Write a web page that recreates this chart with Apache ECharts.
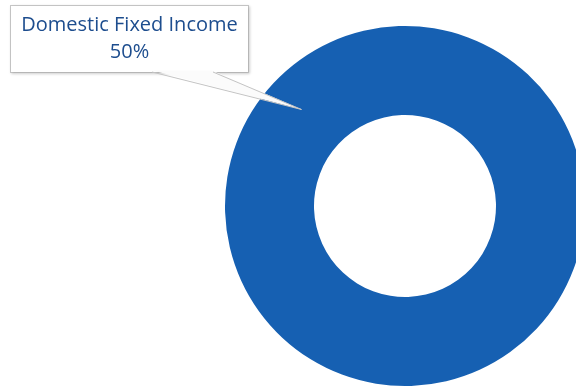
<!DOCTYPE html>
<html>
<head>
<meta charset="utf-8">
<script src="https://cdn.jsdelivr.net/npm/echarts@6/dist/echarts.min.js"></script>
<style>html,body{margin:0;padding:0;background:#fff}#c{width:576px;height:388px}</style>
</head>
<body>
<div id="c"></div>
<script>
var categories = ['Domestic Fixed Income'];
var values = [50];

var CX = 405, CY = 206, R_IN = 91, R_OUT = 180;
var MID_ANGLE = 137; // degrees, label direction (counter-clockwise from +x)
var BOX = {x: 11, y: 6, w: 237, h: 66};

var chart = echarts.init(document.getElementById('c'), null, {renderer: 'canvas'});

var rMid = (R_IN + R_OUT) / 2 + 6;
var rad = MID_ANGLE * Math.PI / 180;
var tip = [CX + rMid * Math.cos(rad), CY - rMid * Math.sin(rad)];
var baseL = [BOX.x + 141, BOX.y + BOX.h];
var baseR = [BOX.x + 202, BOX.y + BOX.h];

chart.setOption({
  animation: false,
  series: [{
    type: 'pie',
    center: [CX, CY],
    radius: [R_IN, R_OUT],
    startAngle: MID_ANGLE + 180,
    silent: true,
    z: 2,
    itemStyle: {color: '#1660b2', borderWidth: 0},
    labelLine: {show: false},
    label: {
      show: true,
      position: 'outside',
      formatter: function (p) { return p.name + '\n' + p.value + '%'; },
      fontFamily: 'Open Sans',
      fontSize: 20,
      lineHeight: 27,
      color: '#1d4d8e',
      width: BOX.w - 8,
      overflow: 'none',
      align: 'center',
      backgroundColor: '#fff',
      borderColor: '#c8c8c8',
      borderWidth: 1,
      padding: [12, 4, 0, 4],
      shadowColor: 'rgba(0,0,0,0.15)',
      shadowBlur: 3,
      shadowOffsetX: 1,
      shadowOffsetY: 1
    },
    labelLayout: {
      x: BOX.x + BOX.w / 2,
      y: BOX.y + BOX.h / 2,
      align: 'center',
      verticalAlign: 'middle',
      moveOverlap: false
    },
    data: categories.map(function (c, i) { return {name: c, value: values[i]}; })
  }],
  graphic: [
    {
      type: 'polygon',
      z: 100,
      shape: {points: [[baseL[0] + 1, baseL[1] - 1.5], tip, [baseR[0] - 1, baseR[1] - 1.5]]},
      style: {fill: '#fbfbfb', stroke: null}
    },
    {
      type: 'polyline',
      z: 101,
      shape: {points: [baseL, tip, baseR]},
      style: {stroke: '#c4c4c4', lineWidth: 1, fill: null}
    }
  ]
});
</script>
</body>
</html>
